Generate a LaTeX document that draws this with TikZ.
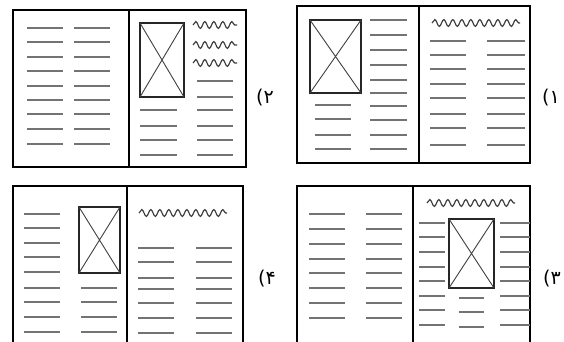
\documentclass[tikz,border=0pt]{standalone}
\usepackage{fontspec}
\newfontfamily\fafont{DejaVu Sans}
\usetikzlibrary{decorations.pathmorphing}
\tikzset{
  frame/.style={draw=black,line width=2pt},
  divider/.style={draw=black,line width=1.3pt},
  txt/.style={draw=black!55,line width=1.5pt},
  pic/.style={draw=black!85,line width=1.4pt},
  diag/.style={draw=black!75,line width=0.9pt},
  wavy/.style={draw=black!75,line width=1.2pt,decorate,decoration={snake,segment length=9pt,amplitude=3.4pt}},
  lbl/.style={font=\fafont\fontsize{19}{19}\selectfont,inner sep=0pt}
}
\newcommand{\rows}[3]{\foreach \yy in {#3} {\draw[txt] (#1,\yy) -- (#2,\yy);}}
\newcommand{\picbox}[4]{\draw[pic] (#1,#2) rectangle (#3,#4); \draw[diag] (#1,#2) -- (#3,#4) (#1,#4) -- (#3,#2);}
\begin{document}
\begin{tikzpicture}[x=1pt,y=-1pt]
\clip (0,0) rectangle (564,342);
\fill[white] (0,0) rectangle (564,342);
% ---- Panel 2 (top-left)
\draw[frame] (13,10) rectangle (246,167);
\draw[divider] (129,10) -- (129,167);
\rows{27}{63}{28,42,57,71,86,100,114,129,144}
\rows{74}{110}{28,42,57,71,86,100,114,129,144}
\picbox{140}{23}{184}{97}
\foreach \yy in {25,45,63} {\draw[wavy] (193,\yy) -- (237,\yy);}
\rows{197}{233}{81,97,110,126,140,155}
\rows{140}{177}{110,126,140,155}
\node[lbl] (l2) at (265,98) {(\char"06F2};
% ---- Panel 1 (top-right)
\draw[frame] (297,6) rectangle (530,163);
\draw[divider] (419,6) -- (419,163);
\picbox{310}{20}{361}{93}
\rows{370}{407}{20,35,50,65,80,93,106,120,135,149}
\rows{315}{351}{105,119,135,149}
\draw[wavy] (432,23) -- (520,23);
\rows{430}{466}{41,55,69,84,98,114,128,145}
\rows{487}{525}{41,55,69,84,98,114,128,145}
\node[lbl] (l1) at (551,98) {(\char"06F1};
% ---- Panel 4 (bottom-left)
\draw[frame] (13,186) rectangle (243,352);
\draw[divider] (127,186) -- (127,352);
\rows{24}{60}{214,228,243,257,272,288,302,317,332}
\picbox{79}{207}{120}{273}
\rows{81}{117}{288,302,317,332}
\draw[wavy] (139,213) -- (227,213);
\rows{138}{174}{248,262,278,289,303,318,333}
\rows{196}{232}{248,262,278,289,303,318,333}
\node[lbl] (l4) at (267,279) {(\char"06F4};
% ---- Panel 3 (bottom-right)
\draw[frame] (297,186) rectangle (530,352);
\draw[divider] (413,186) -- (413,352);
\rows{309}{345}{214,229,244,259,273,288,303,318}
\rows{366}{402}{214,229,244,259,273,288,303,318}
\draw[wavy] (427,203) -- (515,203);
\picbox{449}{219}{494}{288}
\rows{419}{445}{223,237,252,267,281,296,310,325}
\rows{500}{530}{223,237,252,267,281,296,310,325}
\rows{459}{484}{298,312,327}
\node[lbl] (l3) at (552,279) {(\char"06F3};
\end{tikzpicture}
\end{document}
